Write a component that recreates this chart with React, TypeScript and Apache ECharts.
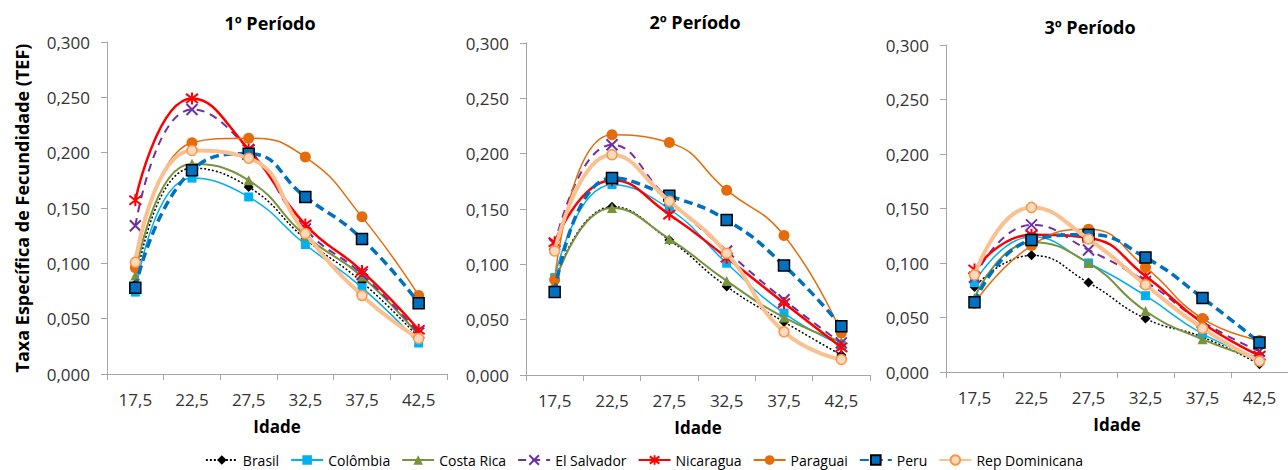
import React, { useEffect, useRef } from 'react';
import * as echarts from 'echarts';

// ---- data ----
const categories = ['17,5', '22,5', '27,5', '32,5', '37,5', '42,5'];
const periodTitles = ['1º Período', '2º Período', '3º Período'];
const countries = ['Brasil', 'Colômbia', 'Costa Rica', 'El Salvador', 'Nicaragua', 'Paraguai', 'Peru', 'Rep Dominicana'];
const yMin = 0;
const yMax = 0.3;
const yStep = 0.05;

const brasil = [
  [0.081, 0.186, 0.169, 0.122, 0.083, 0.033],
  [0.085, 0.152, 0.122, 0.080, 0.048, 0.018],
  [0.078, 0.107, 0.082, 0.049, 0.032, 0.007],
];
const colombia = [
  [0.074, 0.177, 0.160, 0.117, 0.078, 0.028],
  [0.088, 0.172, 0.150, 0.101, 0.056, 0.027],
  [0.082, 0.124, 0.100, 0.070, 0.035, 0.013],
];
const costaRica = [
  [0.089, 0.190, 0.175, 0.125, 0.088, 0.035],
  [0.083, 0.151, 0.123, 0.085, 0.052, 0.030],
  [0.068, 0.119, 0.100, 0.056, 0.030, 0.012],
];
const elSalvador = [
  [0.134, 0.239, 0.203, 0.131, 0.090, 0.037],
  [0.118, 0.208, 0.158, 0.112, 0.068, 0.029],
  [0.087, 0.135, 0.112, 0.083, 0.046, 0.019],
];
const nicaragua = [
  [0.157, 0.249, 0.203, 0.135, 0.093, 0.040],
  [0.120, 0.176, 0.145, 0.106, 0.065, 0.025],
  [0.094, 0.126, 0.123, 0.088, 0.045, 0.015],
];
const paraguai = [
  [0.096, 0.209, 0.213, 0.196, 0.142, 0.071],
  [0.086, 0.217, 0.210, 0.167, 0.126, 0.038],
  [0.063, 0.116, 0.131, 0.096, 0.049, 0.029],
];
const peru = [
  [0.078, 0.184, 0.199, 0.160, 0.122, 0.064],
  [0.075, 0.178, 0.162, 0.140, 0.099, 0.044],
  [0.064, 0.121, 0.126, 0.105, 0.068, 0.027],
];
const repDominicana = [
  [0.101, 0.202, 0.195, 0.127, 0.071, 0.032],
  [0.112, 0.199, 0.157, 0.110, 0.039, 0.014],
  [0.089, 0.151, 0.122, 0.080, 0.040, 0.010],
];

const seriesData = [brasil, colombia, costaRica, elSalvador, nicaragua, paraguai, peru, repDominicana];

// ---- styles ----
const X_PATH = 'path://M0,0L10,10M10,0L0,10';
const STAR_PATH = 'path://M1.2,1.2L8.8,8.8M8.8,1.2L1.2,8.8M5,0L5,10';

const styles: any[] = [
  { color: '#000000', width: 1.5, type: [2, 2], symbol: 'diamond', size: 10, fill: '#000000', border: '#000000', bw: 0 },
  { color: '#00b0f0', width: 1.5, type: 'solid', symbol: 'rect', size: 9, fill: '#00b0f0', border: '#00b0f0', bw: 0 },
  { color: '#77933c', width: 2, type: 'solid', symbol: 'triangle', size: 10, fill: '#77933c', border: '#77933c', bw: 0 },
  { color: '#7030a0', width: 2, type: [8, 6], symbol: X_PATH, size: 11, fill: '#7030a0', border: '#7030a0', bw: 2 },
  { color: '#ff0000', width: 2.5, type: 'solid', symbol: STAR_PATH, size: 12, fill: '#ff0000', border: '#ff0000', bw: 2 },
  { color: '#e46c0a', width: 1.5, type: 'solid', symbol: 'circle', size: 11, fill: '#e46c0a', border: '#e46c0a', bw: 0 },
  { color: '#0070c0', width: 3.5, type: [9, 5], symbol: 'rect', size: 11, fill: '#0070c0', border: '#000000', bw: 1.5 },
  { color: '#fac090', width: 4, type: 'solid', symbol: 'circle', size: 10, fill: '#fbd9bd', border: '#f79646', bw: 1.5 },
];

const grids = [
  { left: 107, top: 42, width: 340, height: 332 },
  { left: 526, top: 43, width: 344, height: 332 },
  { left: 946, top: 45, width: 348, height: 327 },
];
const titlePos = [
  { x: 270, y: 23 },
  { x: 695, y: 22 },
  { x: 1090, y: 27 },
];

const FONT = 'Open Sans';
const AXIS_COLOR = '#a6a6a6';
const LABEL_COLOR = '#333333';

export default function App() {
  const ref = useRef<HTMLDivElement>(null);
  useEffect(() => {
    if (!ref.current) return;
    const chart = echarts.init(ref.current, undefined, { renderer: 'svg' });

    const xAxis = grids.map((_, i) => ({
      type: 'category',
      gridIndex: i,
      data: categories,
      boundaryGap: true,
      name: 'Idade',
      nameLocation: 'middle',
      nameGap: 44,
      nameTextStyle: { fontFamily: FONT, fontWeight: 'bold', fontSize: 17, color: '#000' },
      axisLine: { show: true, lineStyle: { color: AXIS_COLOR, width: 1 } },
      axisTick: { show: true, length: 6, lineStyle: { color: AXIS_COLOR } },
      axisLabel: { fontFamily: FONT, fontSize: 17, color: LABEL_COLOR, margin: 17 },
      splitLine: { show: false },
    }));

    const yAxis = grids.map((_, i) => ({
      type: 'value',
      gridIndex: i,
      min: yMin,
      max: yMax,
      interval: yStep,
      name: i === 0 ? 'Taxa Específica de Fecundidade (TEF)' : '',
      nameLocation: 'middle',
      nameGap: 76,
      nameTextStyle: { fontFamily: FONT, fontWeight: 'bold', fontSize: 18, color: '#000' },
      axisLine: { show: true, lineStyle: { color: AXIS_COLOR, width: 1 } },
      axisTick: { show: true, length: 6, lineStyle: { color: AXIS_COLOR } },
      axisLabel: {
        fontFamily: FONT,
        fontSize: 17,
        color: LABEL_COLOR,
        margin: 17,
        formatter: (v: number) => v.toFixed(3).replace('.', ','),
      },
      splitLine: { show: false },
    }));

    const series: any[] = [];
    for (let p = 0; p < 3; p++) {
      countries.forEach((name, ci) => {
        const s = styles[ci];
        series.push({
          type: 'line',
          name,
          xAxisIndex: p,
          yAxisIndex: p,
          data: seriesData[ci][p],
          smooth: 0.5,
          symbol: s.symbol,
          symbolSize: s.size,
          showSymbol: true,
          lineStyle: { color: s.color, width: s.width, type: s.type },
          itemStyle: { color: s.fill, borderColor: s.border, borderWidth: s.bw },
          emphasis: { disabled: true },
          z: 2 + ci,
        });
      });
    }

    const graphic = periodTitles.map((t, i) => ({
      type: 'text',
      x: titlePos[i].x,
      y: titlePos[i].y,
      style: {
        text: t,
        align: 'center',
        verticalAlign: 'middle',
        fontFamily: FONT,
        fontWeight: 'bold',
        fontSize: 18,
        fill: '#000',
      },
    }));

    chart.setOption({
      animation: false,
      backgroundColor: '#ffffff',
      grid: grids,
      xAxis,
      yAxis,
      series,
      graphic,
      legend: {
        data: countries,
        left: 'center',
        top: 453,
        itemWidth: 32,
        itemHeight: 12,
        itemGap: 11,
        padding: 0,
        textStyle: { fontFamily: FONT, fontSize: 14, lineHeight: 14, color: '#000' },
      },
    });
    return () => chart.dispose();
  }, []);

  return (
    <div
      ref={ref}
      style={{ position: 'absolute', left: 0, top: 0, width: 1288, height: 470 }}
    />
  );
}
